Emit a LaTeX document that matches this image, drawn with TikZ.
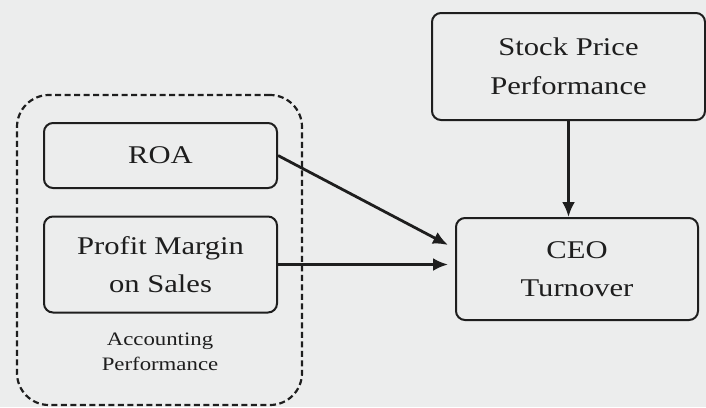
\documentclass[tikz,border=0pt]{standalone}
\usepackage{fontspec}
\setmainfont{Liberation Serif}[FakeStretch=1.2]
\usetikzlibrary{arrows.meta}
\definecolor{bg}{RGB}{236,237,237}
\definecolor{ink}{RGB}{30,30,30}
\tikzset{
  box/.style={draw=ink, line width=2pt, rounded corners=9pt, align=center, text=ink,
    font=\fontsize{25.5}{38.5}\selectfont, inner sep=0pt},
  group/.style={draw=ink, line width=2.2pt, dash pattern=on 6pt off 3.5pt, rounded corners=32pt},
  conn/.style={draw=ink, line width=2.8pt, -{Latex[length=15pt,width=13pt]}},
  small/.style={align=center, text=ink, font=\fontsize{19}{25}\selectfont, inner sep=0pt}
}
\begin{document}
\begin{tikzpicture}[x=1pt,y=-1pt]
\fill[bg] (0,0) rectangle (706,407);
\useasboundingbox (0,0) rectangle (706,407);
\node[group, minimum width=285pt, minimum height=310pt] (grp) at (159.5,250) {};
\node[box, minimum width=233pt, minimum height=65pt] (roa) at (160.5,155.5) {ROA};
\node[box, minimum width=233pt, minimum height=96pt] (pm) at (160.5,264.5) {Profit Margin\\on Sales};
\node[small] (acc) at (160,352) {Accounting\\Performance};
\node[box, minimum width=273pt, minimum height=107pt] (stock) at (568.5,66.5) {Stock Price\\Performance};
\node[box, minimum width=242pt, minimum height=102pt] (ceo) at (577,269) {CEO\\Turnover};
\coordinate (e1) at (448,245);
\coordinate (e2) at (448,264.5);
\draw[conn] (roa.east) -- (e1);
\draw[conn] (pm.east) -- (e2);
\draw[conn] (stock.south) -- (stock.south |- ceo.north);
\end{tikzpicture}
\end{document}
